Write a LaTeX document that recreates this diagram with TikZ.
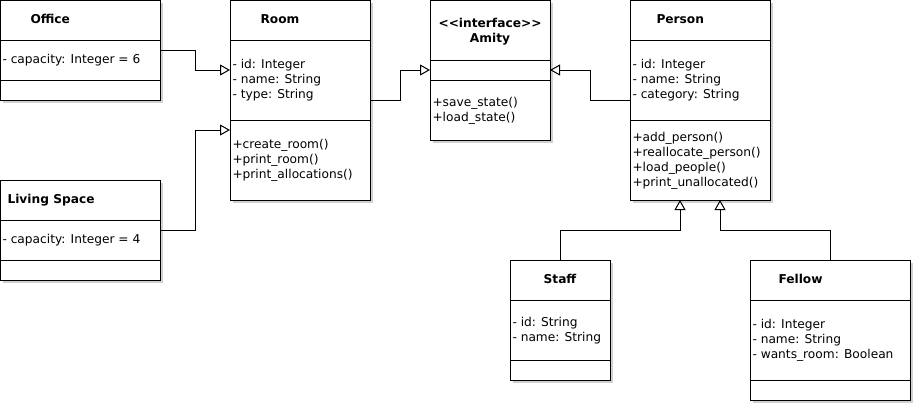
\documentclass[tikz,border=0pt]{standalone}
\usepackage{fontspec}
\setmainfont{DejaVu Sans}
\usetikzlibrary{arrows.meta,backgrounds}
\definecolor{shadowgray}{HTML}{D0D0D0}

\begin{document}
\begin{tikzpicture}[x=1pt,y=-1pt,line width=1pt,
		classbox/.style={draw,fill=white,anchor=north west,inner sep=0pt,outer sep=0pt},
		member/.style={anchor=base west,inner sep=0pt,font=\fontsize{12.2}{15}\selectfont},
		classtitle/.style={anchor=base west,inner sep=0pt,font=\fontsize{12.2}{15}\selectfont\bfseries},
		generalize/.style={-{Triangle[open,length=10pt,width=11pt,fill=white]}}]
		\useasboundingbox (0,0) rectangle (915,405);
		\newcommand{\umlclass}[7]{\node[classbox,minimum width=#4pt,minimum height=#5pt] (#1) at (#2,#3) {};
			\draw (#2,#6) -- (#2+#4,#6);
			\draw (#2,#7) -- (#2+#4,#7);
			\begin{scope}[on background layer]
				\fill[shadowgray] (#2+3,#3+3) rectangle (#2+#4+3,#3+#5+3);
			\end{scope}}
		\newcommand{\members}[4]{\foreach \txt [count=\i] in {#4}
			\node[member] (#1\i) at (#2+2,#3+15*\i-15) {\txt};}
		
		\umlclass{office}{0}{0}{160}{100}{40}{80}
		\umlclass{room}{230}{0}{140}{200}{40}{120}
		\umlclass{amity}{430}{0}{120}{140}{60}{80}
		\umlclass{person}{630}{0}{140}{200}{40}{120}
		\umlclass{living}{0}{180}{160}{100}{220}{260}
		\umlclass{staff}{510}{260}{100}{120}{300}{360}
		\umlclass{fellow}{750}{260}{160}{140}{300}{380}
		
		\node[classtitle] (officeT) at (30,23.5) {Office};
		\node[classtitle] (roomT) at (260,23.5) {Room};
		\node[classtitle,anchor=base] (amityS) at (490,27) {<\kern0pt<interface>\kern0pt>};
		\node[classtitle,anchor=base] (amityT) at (490,42) {Amity};
		\node[classtitle] (personT) at (656,23.5) {Person};
		\node[classtitle] (livingT) at (7,203.5) {Living Space};
		\node[classtitle,anchor=base] (staffT) at (560,283.5) {Staff};
		\node[classtitle] (fellowT) at (778,283.5) {Fellow};
		
		\members{officeA}{0}{63.5}{- capacity: Integer = 6}
		\members{roomA}{230}{68.5}{- id: Integer, - name: String, - type: String}
		\members{roomM}{230}{148.5}{+create\_room(), +print\_room(), +print\_allocations()}
		\members{amityM}{430}{106}{+save\_state(), +load\_state()}
		\members{personA}{630}{68.5}{- id: Integer, - name: String, - category: String}
		\members{personM}{630}{141}{+add\_person(), +reallocate\_person(), +load\_people(), +print\_unallocated()}
		\members{livingA}{0}{243.5}{- capacity: Integer = 4}
		\members{staffA}{510}{326}{- id: String, - name: String}
		\members{fellowA}{750}{328.5}{- id: Integer, - name: String, - wants\_room: Boolean}
		
		\draw[generalize] (office.east) -- ++(35,0) |- ([yshift=-70pt]room.north west);
		\draw[generalize] (living.east) -- ++(35,0) |- ([yshift=-130pt]room.north west);
		\draw[generalize] ([yshift=-100pt]room.north east) -- ++(30,0) |- ([yshift=-70pt]amity.north west);
		\draw[generalize] ([yshift=-100pt]person.north west) -- ++(-40,0) |- ([yshift=-70pt]amity.north east);
		\draw[generalize] (staff.north) -- ++(0,-30) -| ([xshift=-20pt]person.south);
		\draw[generalize] (fellow.north) -- ++(0,-30) -| ([xshift=20pt]person.south);
	\end{tikzpicture}
\end{document}
